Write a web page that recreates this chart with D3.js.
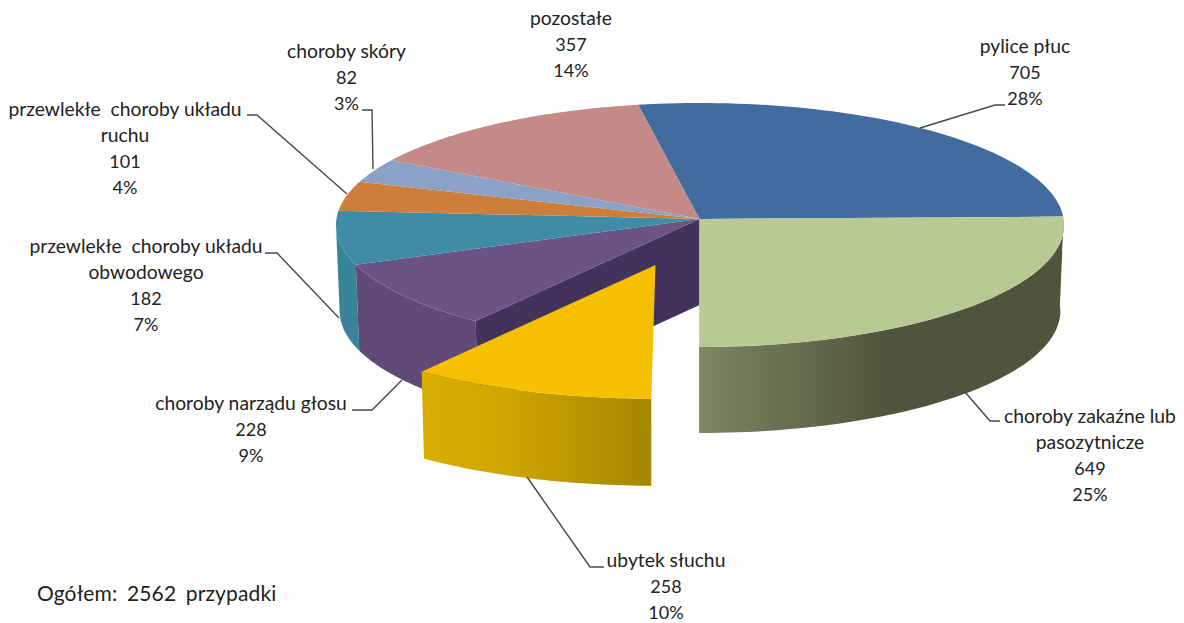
<!DOCTYPE html>
<html><head><meta charset="utf-8">
<script src="https://cdn.jsdelivr.net/npm/d3@7"></script>
<style>html,body{margin:0;background:#fff}svg{display:block}text{font-family:Lato,sans-serif;font-size:18px;fill:#222}</style>
</head><body><svg id="c" width="1184" height="623"></svg>
<script>
const categories=["pylice płuc","choroby zakaźne lub pasozytnicze","ubytek słuchu","choroby narządu głosu","przewlekłe  choroby układu obwodowego","przewlekłe  choroby układu ruchu","choroby skóry","pozostałe"];
const values=[705,649,258,228,182,101,82,357];
const percents=["28%","25%","10%","9%","7%","4%","3%","14%"];
const labelLines=[["pylice płuc"],["choroby zakaźne lub","pasozytnicze"],["ubytek słuchu"],["choroby narządu głosu"],["przewlekłe  choroby układu","obwodowego"],["przewlekłe  choroby układu","ruchu"],["choroby skóry"],["pozostałe"]];
const topColors=["#426b9f","#b9c994","#f4c000","#6c5385","#3f8ca6","#cd7e3a","#8ba2c6","#c48a87"];
const wallStops=[["#2f4e75","#2f4e75"],["#7c8763","#4f553c"],["#d8ad00","#a68600"],["#604a78","#604a78"],["#3a8499","#3a8499"],["#a0622c","#a0622c"],["#6d80a0","#6d80a0"],["#9c6c6a","#9c6c6a"]];
const labelX=[1025,1090,666,251,146,125,346.5,571];
const labelY=[53,423,567,410,253,116,58,25];
const leaders=[[[920,128],[995,105],[1005,105]],[[965,392],[990,421],[1000,421]],[[527,477],[590,567],[604,567]],[[402,380],[372,410],[352,410]],[[339,318],[277,253],[265,253]],[[347,194],[257,115],[247,115]],[[373,169],[372,110],[362,110]]];

const svg=d3.select("#c"),defs=svg.append("defs");
const apex=[699.5,219],cen=[700,225],rx=364,ry=122,depth=86;
const off=[-44,46],grow=1.045,bottomShrink=0.99,explodedTurn=0.55;
const rad=d3.scaleLinear().domain([0,360]).range([0,2*Math.PI]);
const pie=d3.pie().sort(null).startAngle(rad(-10.2)).endAngle(rad(349.8));
const arcs=pie(values);
function rim(t){
  const dx=rx*Math.sin(t),dy=-ry*Math.cos(t);
  const ex=(apex[0]-cen[0])/rx,ey=(apex[1]-cen[1])/ry,ux=dx/rx,uy=dy/ry;
  const a=ux*ux+uy*uy,b=2*(ex*ux+ey*uy),c=ex*ex+ey*ey-1;
  const s=(-b+Math.sqrt(b*b-4*a*c))/(2*a);
  return [apex[0]+s*dx,apex[1]+s*dy];
}
const line=d3.line();
function samples(a,b){return d3.range(0,61).map(i=>rim(a+(b-a)*i/60));}
const vMin=rad(90),vMax=rad(267);
function grad(id,x0,x1,stops){
  const g=defs.append("linearGradient").attr("id",id).attr("gradientUnits","userSpaceOnUse").attr("x1",x0).attr("x2",x1).attr("y1",0).attr("y2",0);
  stops.forEach(s=>g.append("stop").attr("offset",s[0]).attr("stop-color",s[1]));
}
grad("w1",699,1064,[[0,wallStops[1][0]],[.52,wallStops[1][1]],[1,wallStops[1][1]]]);
grad("w2",424,651,[[0,wallStops[2][0]],[.3,"#d2a800"],[1,wallStops[2][1]]]);
const pieG=svg.append("g");
const lower=(q,x0,h)=>[x0+(q[0]-x0)*bottomShrink,q[1]+h];
[4,3,1].forEach(i=>{
  const d=arcs[i],a=Math.max(d.startAngle,vMin),b=Math.min(d.endAngle,vMax);
  const p=samples(a,b);
  const pts=p.concat(p.slice().reverse().map(q=>lower(q,apex[0],depth)));
  pieG.append("path").attr("d",line(pts)+"Z").attr("fill",i===1?"url(#w1)":wallStops[i][0]);
});
{const q=rim(arcs[3].startAngle);
 pieG.append("path").attr("d",line([apex,q,lower(q,apex[0],depth),[apex[0],apex[1]+depth]])+"Z").attr("fill","#43335a");}
arcs.forEach((d,i)=>{
  if(i===2)return;
  pieG.append("path").attr("d",line([apex].concat(samples(d.startAngle,d.endAngle)))+"Z").attr("fill",topColors[i]);
});
{const d=arcs[2];
 const tip=[apex[0]+off[0],apex[1]+off[1]];
 const p=samples(d.startAngle+rad(explodedTurn),d.endAngle).map(q=>[tip[0]+(q[0]-apex[0])*grow,tip[1]+(q[1]-apex[1])*grow]);
 const pts=p.concat(p.slice().reverse().map(q=>lower(q,tip[0],depth+1)));
 pieG.append("path").attr("d",line(pts)+"Z").attr("fill","url(#w2)");
 pieG.append("path").attr("d",line([tip].concat(p))+"Z").attr("fill",topColors[2]);
}
svg.append("g").selectAll("path").data(leaders).join("path").attr("d",d=>line(d)).attr("fill","none").attr("stroke","#484848").attr("stroke-width",1.4);
const lh=26;
const lab=svg.append("g").attr("text-anchor","middle");
categories.forEach((c,i)=>{
  const names=labelLines[i];
  names.concat([String(values[i]),percents[i]]).forEach((t,j)=>lab.append("text").attr("x",labelX[i]).attr("y",labelY[i]+j*lh).style("white-space","pre").style("font-size",j<names.length?"19.3px":"18px").text(t));
});
svg.append("text").attr("x",37).attr("y",601).style("font-size","21px").style("letter-spacing","0.15px").style("word-spacing","4px").text("Ogółem: 2562 przypadki");
</script></body></html>
